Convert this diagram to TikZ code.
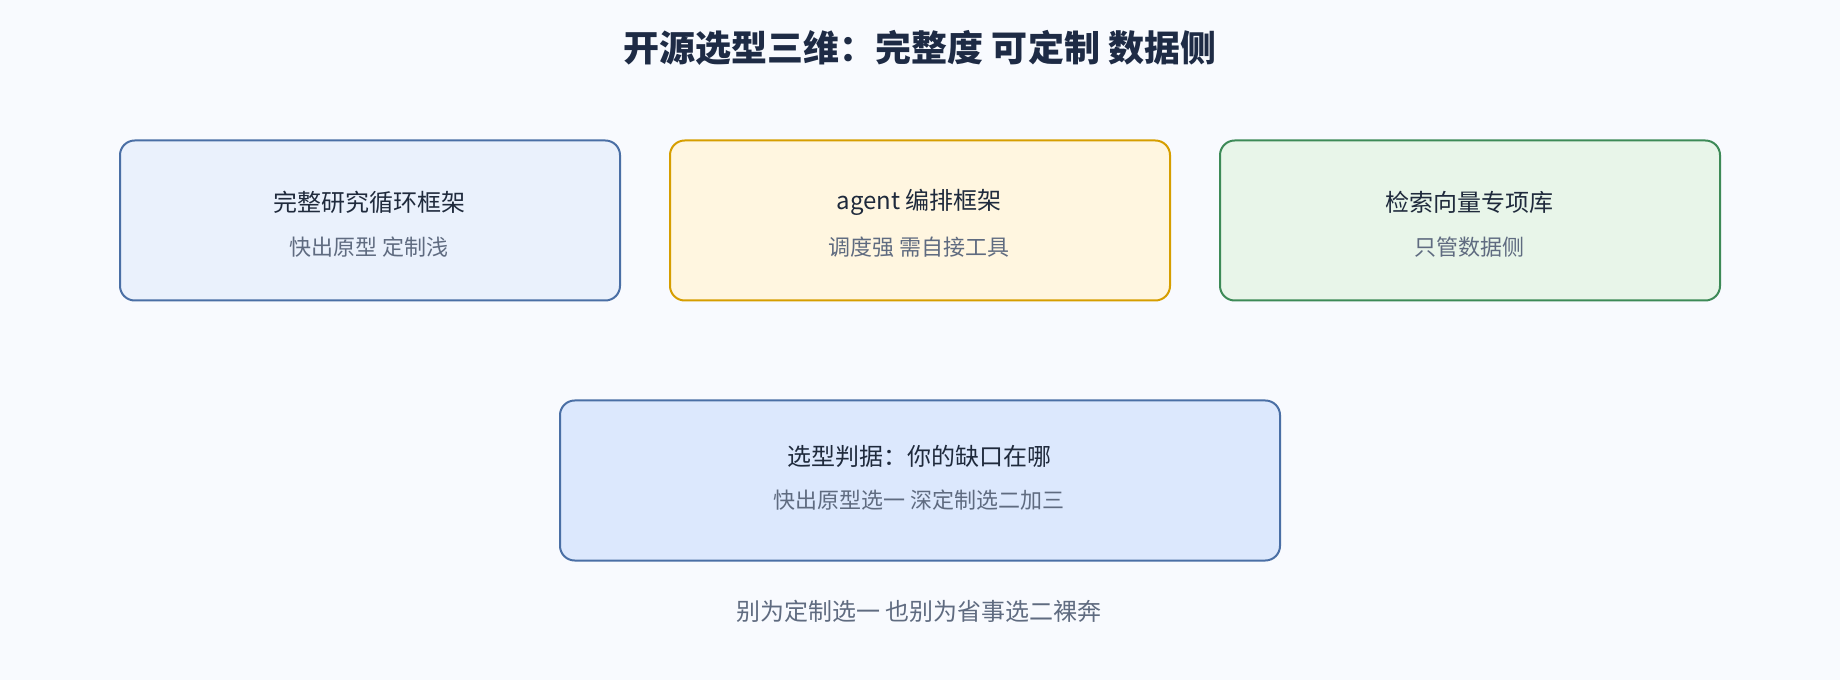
\documentclass[tikz,border=0pt]{standalone}
\usepackage{fontspec}
\setmainfont{Noto Sans CJK SC}
\definecolor{bgc}{HTML}{F8FAFE}
\definecolor{titlec}{HTML}{1E2B45}
\definecolor{labelc}{HTML}{1F2A3C}
\definecolor{subc}{HTML}{5F6B80}
\definecolor{fillA}{HTML}{EAF1FC}
\definecolor{drawA}{HTML}{4A6FA5}
\definecolor{fillB}{HTML}{FFF6E0}
\definecolor{drawB}{HTML}{D69E00}
\definecolor{fillC}{HTML}{E8F5E9}
\definecolor{drawC}{HTML}{3D8A57}
\definecolor{fillD}{HTML}{DCE8FD}
\begin{document}
\begin{tikzpicture}[x=0.75pt,y=-0.75pt,
  card/.style={draw, line width=1.5pt, rounded corners=11pt, inner sep=0pt, anchor=north west},
  mainlbl/.style={text=labelc, font=\fontsize{18}{22}\selectfont, inner sep=0pt},
  sublbl/.style={text=subc, font=\fontsize{16.5}{20}\selectfont, inner sep=0pt},
  ttl/.style={text=titlec, font=\fontsize{27}{32}\selectfont\bfseries, inner sep=0pt}]
\fill[bgc] (0,0) rectangle (1840,680);
\useasboundingbox (0,0) rectangle (1840,680);
\node[ttl] (title) at (920,47.5) {开源选型三维：完整度 可定制 数据侧};
\node[card, fill=fillA, draw=drawA, minimum width=375pt, minimum height=120pt] (boxA) at (119,139.5) {};
\node[card, fill=fillB, draw=drawB, minimum width=375pt, minimum height=120pt] (boxB) at (669,139.5) {};
\node[card, fill=fillC, draw=drawC, minimum width=375pt, minimum height=120pt] (boxC) at (1219,139.5) {};
\node[card, fill=fillD, draw=drawA, minimum width=540pt, minimum height=120pt] (boxD) at (559,399.5) {};
\node[mainlbl] (la) at (369,202.5) {完整研究循环框架};
\node[sublbl] (sa) at (369,247) {快出原型 定制浅};
\node[mainlbl] (lb) at (919,202.5) {agent 编排框架};
\node[sublbl] (sb) at (919,247) {调度强 需自接工具};
\node[mainlbl] (lc) at (1469,202.5) {检索向量专项库};
\node[sublbl] (sc) at (1469,247) {只管数据侧};
\node[mainlbl] (ld) at (919,456.5) {选型判据：你的缺口在哪};
\node[sublbl] (sd) at (919,500.5) {快出原型选一 深定制选二加三};
\node[text=subc, font=\fontsize{18}{22}\selectfont, inner sep=0pt] (foot) at (919,611.5) {别为定制选一 也别为省事选二裸奔};
\end{tikzpicture}
\end{document}
